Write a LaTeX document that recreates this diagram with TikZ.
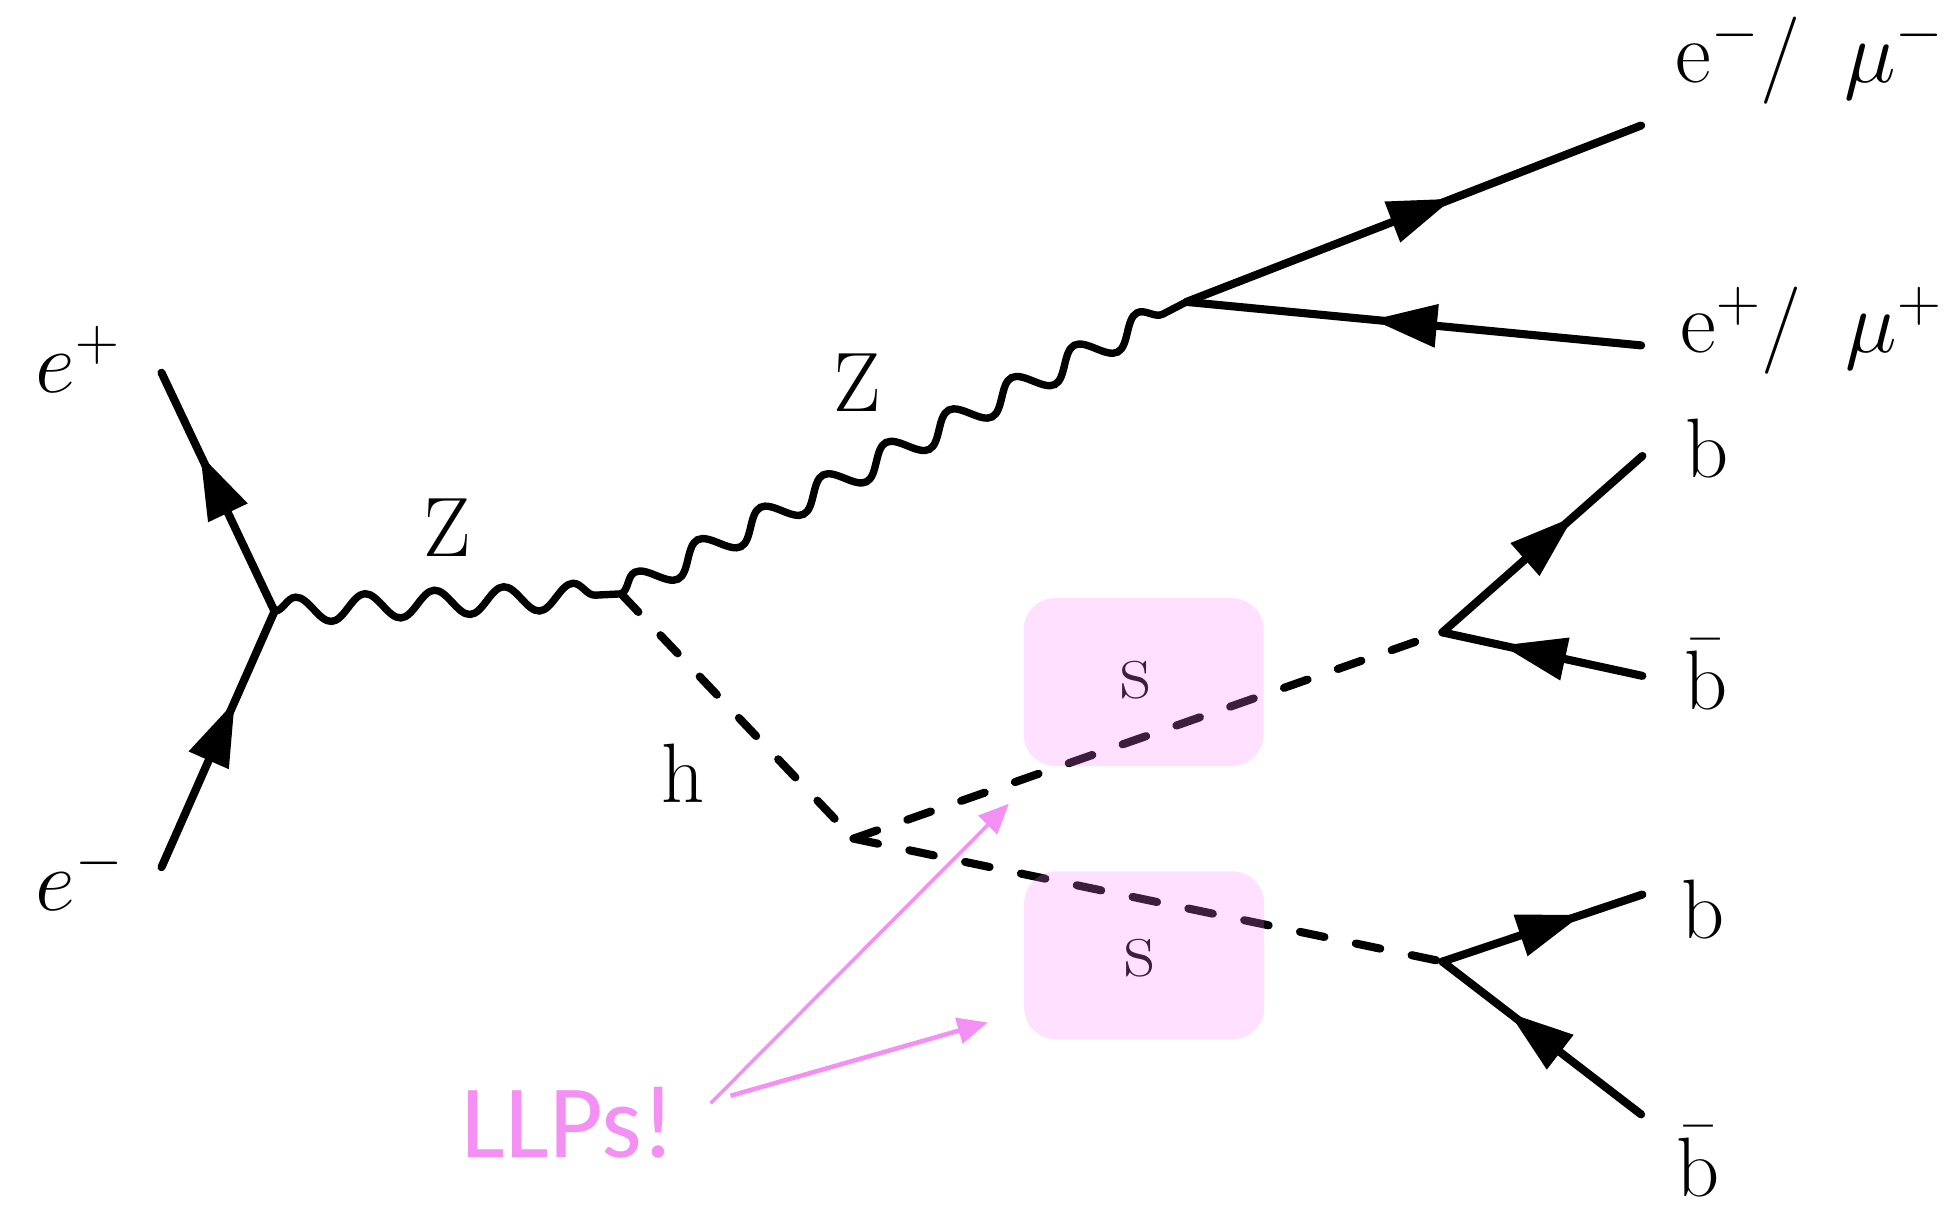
\documentclass[tikz,border=0pt]{standalone}
\usepackage{fontspec}
\newfontfamily\llpfont{Carlito}
\usetikzlibrary{decorations.pathmorphing,decorations.markings,arrows.meta}
\definecolor{llp}{RGB}{244,143,244}
\definecolor{boxc}{RGB}{255,128,255}
\begin{document}
\begin{tikzpicture}[x=0.012423cm,y=-0.012423cm,
  fermion/.style={line width=2.3pt, line cap=round, postaction={decorate},
    decoration={markings, mark=at position 0.5 with {\fill (0.41cm,0cm) -- (-0.23cm,0.22cm) -- (-0.23cm,-0.22cm) -- cycle;}}},
  photon/.style={line width=2.1pt, line cap=round, decorate,
    decoration={snake, amplitude=0.13cm, segment length=#1}},
  scalar/.style={line width=2.3pt, line cap=round, dash pattern=on 0.25cm off 0.32cm},
  lab/.style={inner sep=0pt, anchor=base, font=\fontsize{24}{28}\selectfont},
  elab/.style={inner sep=0pt, anchor=base west, font=\fontsize{27}{32}\selectfont},
  llab/.style={inner sep=0pt, anchor=base west, font=\fontsize{25}{30}\selectfont},
  sbox/.style={fill=boxc, fill opacity=0.24, rounded corners=0.32cm,
    minimum width=2.40cm, minimum height=1.68cm, inner sep=0pt},
  llparrow/.style={draw=llp, -{Triangle[length=0.3cm,width=0.26cm]}}
]
\useasboundingbox (0,0) rectangle (1568,972);
% vertices and endpoints
\coordinate (ep) at (130,300);
\coordinate (em) at (130,698);
\coordinate (v1) at (221,492);
\coordinate (v2) at (500,478);
\coordinate (v3) at (955,243);
\coordinate (lm) at (1321,101);
\coordinate (lp) at (1321,278);
\coordinate (v4) at (687,675);
\coordinate (v5) at (1161,509);
\coordinate (v6) at (1161,774);
\coordinate (b1) at (1322,367);
\coordinate (bb1) at (1322,544);
\coordinate (b2) at (1322,720);
\coordinate (bb2) at (1321,897);
% lines
\draw[fermion] (em) -- (v1);
\draw[fermion] (v1) -- (ep);
\draw[photon=0.694cm] (v1) -- (v2);
\draw[photon=0.7065cm] (v2) -- (v3);
\draw[fermion] (v3) -- (lm);
\draw[fermion] (lp) -- (v3);
\draw[scalar] (v2) -- (v4);
\draw[scalar] (v4) -- (v5);
\draw[scalar] (v4) -- (v6);
\draw[fermion] (v5) -- (b1);
\draw[fermion] (bb1) -- (v5);
\draw[fermion] (v6) -- (b2);
\draw[fermion] (bb2) -- (v6);
% labels
\node[elab] (lep) at (28,316) {$e^+$};
\node[elab] (lem) at (28,733) {$e^-$};
\node[lab] (lz1) at (360,448) {Z};
\node[lab] (lz2) at (690,331) {Z};
\node[lab] (lh) at (550,646) {h};
\node[llab] (llm) at (1348,66) {$\mathrm{e}^-/\hspace{0.5em}\mu^-$};
\node[llab] (llp) at (1352,284) {$\mathrm{e}^+/\hspace{0.5em}\mu^+$};
\node[lab] (ls1) at (914,562) {s};
\node[lab] (ls2) at (917,786) {s};
\node[lab] (lb1) at (1374,384) {b};
\node[lab] (lbb1) at (1373,571) {$\bar{\mathrm{b}}$};
\node[lab] (lb2) at (1371,755) {b};
\node[lab] (lbb2) at (1367,963) {$\bar{\mathrm{b}}$};
% boxes
\node[sbox] (box1) at (920.5,549) {};
\node[sbox] (box2) at (921,769) {};
% LLPs
\node[inner sep=0pt, anchor=base west, text=llp, font=\llpfont\fontsize{29.6}{34}\selectfont] (llps) at (371,932) {LLPs!};
\coordinate (a1s) at (572,888);
\coordinate (a1e) at (812,647);
\coordinate (a2s) at (588,882);
\coordinate (a2e) at (795,823);
\draw[llparrow, line width=1pt] (a1s) -- (a1e);
\draw[llparrow, line width=1.3pt] (a2s) -- (a2e);
\end{tikzpicture}
\end{document}
